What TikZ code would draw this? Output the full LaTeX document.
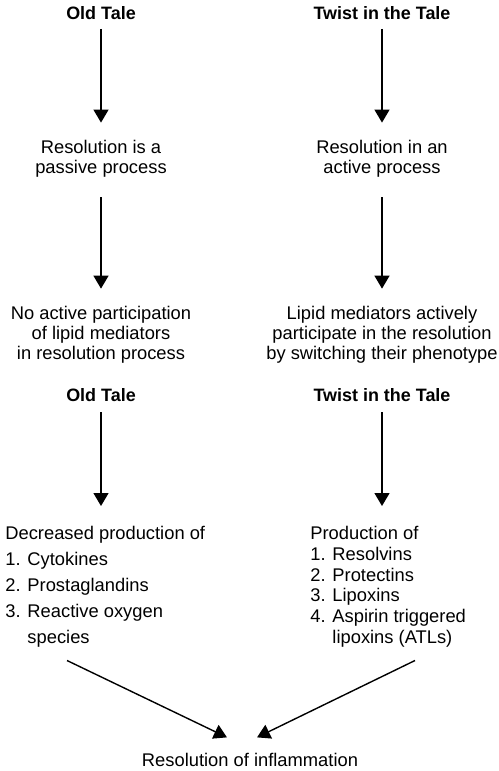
\documentclass[tikz,border=0pt]{standalone}
\usepackage{fontspec}
\setmainfont{Liberation Sans}
\usetikzlibrary{arrows.meta}
\begin{document}
\begin{tikzpicture}
    [
    x=0.5bp,y=-0.5bp,
    heading/.style={font=\bfseries\fontsize{9}{10}\selectfont,inner sep=0pt},
    stage/.style={font=\fontsize{9.2}{10}\selectfont,align=center,inner sep=0pt},
    listing/.style={font=\fontsize{9.2}{13}\selectfont,align=left,inner sep=0pt,anchor=north west},
    flow/.style={line width=0.7bp,-{Triangle[width=7.5bp,length=6.5bp]}}
    ]
    \useasboundingbox (0,0) rectangle (499,771);
    \node (oldA) at (101,13) [heading] {Old Tale};
    \node (twistA) at (382,13) [heading] {Twist in the Tale};
    \node (passive) at (101,158.5) [stage] {Resolution is a\\passive process};
    \node (active) at (382,158.5) [stage] {Resolution in an\\active process};
    \node (noLipid) at (101,334.5) [stage] {No active participation\\of lipid mediators\\in resolution process};
    \node (lipid) at (382,334.5) [stage] {Lipid mediators actively\\participate in the resolution\\by switching their phenotype};
    \node (oldB) at (101,395.5) [heading] {Old Tale};
    \node (twistB) at (382,395.5) [heading] {Twist in the Tale};
    \node (decreased) at (5,526) [listing] {Decreased production of\\1. Cytokines\\2. Prostaglandins\\3. Reactive oxygen\\\phantom{3. }species};
    \node (produced) at (310,526) [listing,font=\fontsize{9.2}{10.4}\selectfont] {Production of\\1. Resolvins\\2. Protectins\\3. Lipoxins\\4. Aspirin triggered\\\phantom{4. }lipoxins (ATLs)};
    \node (resolution) at (250,759.5) [stage] {Resolution of inflammation};
    \draw [flow,shorten <=4.5bp,shorten >=8.5bp] (oldA) to (passive);
    \draw [flow,shorten <=4.5bp,shorten >=8.5bp] (twistA) to (active);
    \draw [flow,shorten <=10bp,shorten >=8.5bp] (passive) to (noLipid);
    \draw [flow,shorten <=10bp,shorten >=8.5bp] (active) to (lipid);
    \draw [flow,shorten <=5bp,shorten >=10bp] (oldB) to (decreased.north -| oldB);
    \draw [flow,shorten <=5bp,shorten >=10bp] (twistB) to (produced.north -| twistB);
    \draw [flow] ([xshift=31bp,yshift=-6.5bp]decreased.south west) to ([xshift=-11.5bp,yshift=7.5bp]resolution.north);
    \draw [flow] ([xshift=52.5bp,yshift=-6.5bp]produced.south west) to ([xshift=3.5bp,yshift=7.5bp]resolution.north);
\end{tikzpicture}
\end{document}
